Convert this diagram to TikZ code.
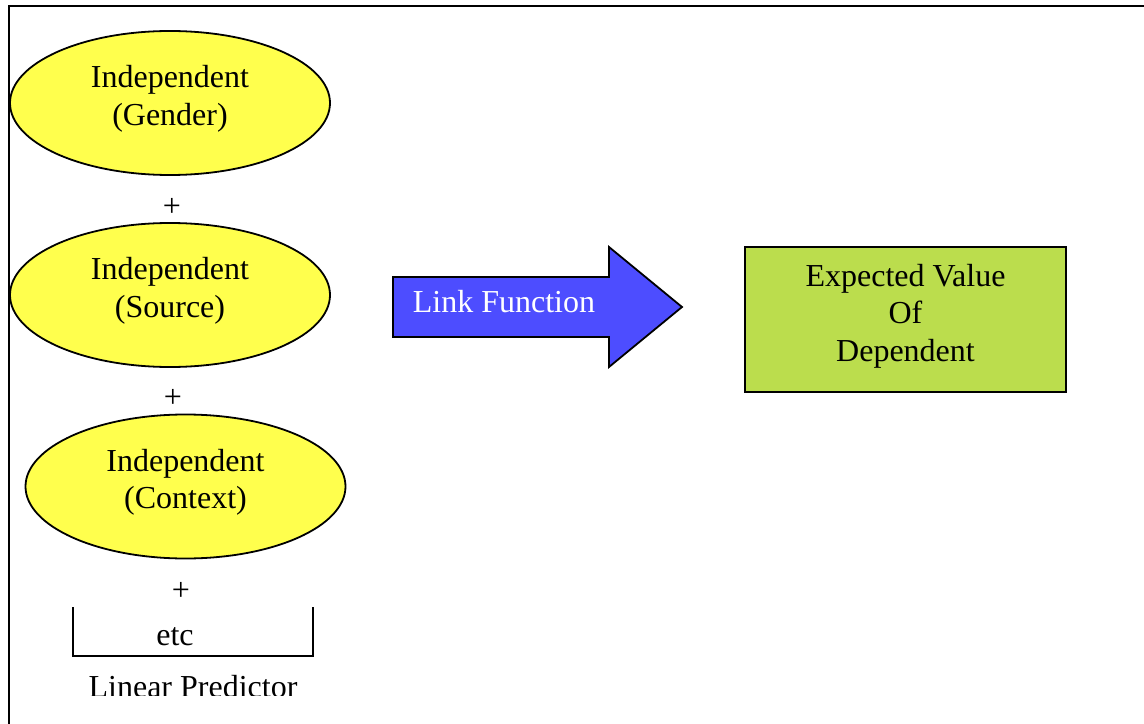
\documentclass[tikz,border=0pt]{standalone}
\usepackage{fontspec}
\setmainfont{Liberation Serif}
\usetikzlibrary{shapes.geometric}
\definecolor{ellyellow}{RGB}{255,255,77}
\definecolor{linkblue}{RGB}{77,77,255}
\definecolor{valgreen}{RGB}{187,221,77}
\tikzset{
  predictor/.style={ellipse, draw=black, fill=ellyellow, line width=1.8bp,
    minimum width=320bp, minimum height=144bp, inner sep=0pt},
  valuebox/.style={rectangle, draw=black, fill=valgreen, line width=1.8bp,
    minimum width=321bp, minimum height=145bp, inner sep=0pt},
  lbl/.style={align=center, inner sep=0pt},
  linkarrow/.style={draw=black, fill=linkblue, line width=1.8bp, line join=miter},
  frameline/.style={draw=black, line width=2bp},
}
\begin{document}
\begin{tikzpicture}[x=1bp, y=-1bp, font=\fontsize{32bp}{37.5bp}\selectfont]
\useasboundingbox (0,0) rectangle (1144,724);

% outer frame (only top and left edges fall inside the page)
\draw[frameline] (1144,6) -- (8.5,6) -- (8.5,724);

% the independent variables of the linear predictor
\node[predictor] (gender) at (170,103) {};
\node[lbl, yshift=4bp] (gendertext) at (gender) {Independent\\(Gender)};
\node[lbl] (plus1) at (172,207) {+};

\node[predictor] (source) at (170,295) {};
\node[lbl, yshift=4bp] (sourcetext) at (source) {Independent\\(Source)};
\node[lbl] (plus2) at (173,398) {+};

\node[predictor] (context) at (185.5,486.5) {};
\node[lbl, yshift=4bp] (contexttext) at (context) {Independent\\(Context)};
\node[lbl] (plus3) at (181,591) {+};

% bracket holding the remaining terms
\coordinate (bl) at (73,607);
\coordinate (br) at (313,607);
\draw[line width=1.5bp] (bl) -- (73,656) -- (313,656) -- (br);
\node[lbl, anchor=base] (etc) at (175,645) {etc};

\begin{scope}
  \clip (0,0) rectangle (1144,695.5);
  \node[lbl, anchor=base] (linpred) at (193,697) {Linear Predictor};
\end{scope}

% link function arrow
\draw[linkarrow] (393,277) -- (609,277) -- (609,247) -- (682,307)
  -- (609,367) -- (609,337) -- (393,337) -- cycle;
\node[lbl, anchor=base, text=white] (link) at (504,312) {Link Function};

% expected value of the dependent variable
\node[valuebox] (expected) at (905.5,319.5) {};
\node[lbl, yshift=3.5bp] (expectedtext) at (expected) {Expected Value\\Of\\Dependent};
\end{tikzpicture}
\end{document}
